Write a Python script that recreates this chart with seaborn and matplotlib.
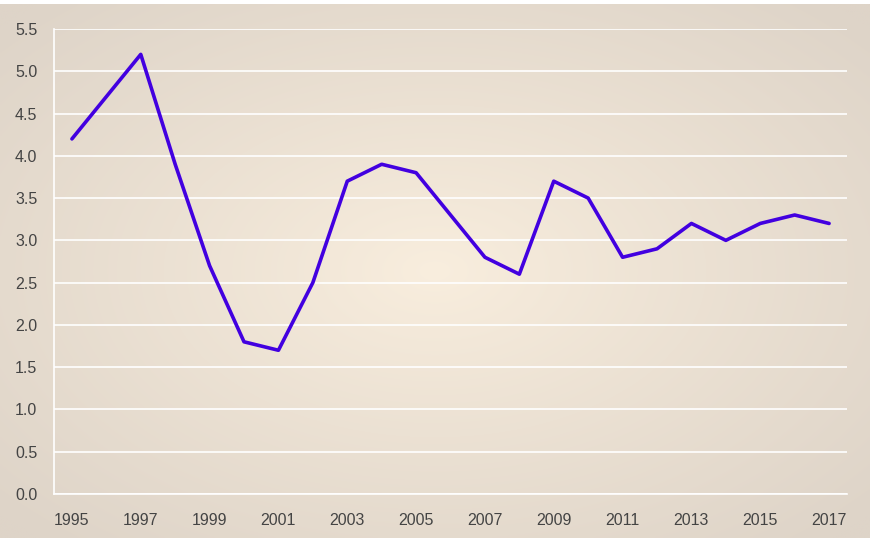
import numpy as np
import pandas as pd
import matplotlib
matplotlib.use("Agg")
import matplotlib.pyplot as plt
import seaborn as sns

# ── data ──────────────────────────────────────────────
years = list(range(1995, 2018))
values = [4.2, 4.7, 5.2, 3.9, 2.7, 1.8, 1.7, 2.5, 3.7, 3.9, 3.8, 3.3,
          2.8, 2.6, 3.7, 3.5, 2.8, 2.9, 3.2, 3.0, 3.2, 3.3, 3.2]
x_ticks = list(range(1995, 2018, 2))
y_ticks = [0.0, 0.5, 1.0, 1.5, 2.0, 2.5, 3.0, 3.5, 4.0, 4.5, 5.0, 5.5]

df = pd.DataFrame({"year": years, "value": values})

sns.set_theme(style="white")
plt.rcParams["font.family"] = ["Liberation Sans", "DejaVu Sans"]

fig = plt.figure(figsize=(8.73, 5.38), dpi=100)
fig.patch.set_facecolor("white")

# radial gradient background (leaves a thin white strip top and right)
bg = fig.add_axes([0, 0, 1 - 3 / 873, 1 - 4 / 538], zorder=-10)
gx, gy = np.meshgrid(np.linspace(-1, 1, 400), np.linspace(-1, 1, 250))
r = np.clip(np.sqrt(gx**2 + gy**2) / 1.35, 0, 1) ** 0.9
center = np.array([249, 238, 222]) / 255
edge = np.array([222, 212, 200]) / 255
img = center[None, None, :] * (1 - r[..., None]) + edge[None, None, :] * r[..., None]
bg.imshow(img, aspect="auto", extent=[0, 1, 0, 1], interpolation="bilinear")
bg.set_axis_off()

ax = fig.add_axes([0.0619, 0.0818, 0.9083, 0.8643])
ax.patch.set_alpha(0)

sns.lineplot(data=df, x="year", y="value", color="#4200e0", linewidth=2.6, ax=ax)

ax.set_xlim(1994.48, 2017.52)
ax.set_ylim(0, 5.5)
ax.set_xticks(x_ticks)
ax.set_yticks(y_ticks)
ax.set_yticklabels([f"{v:.1f}" for v in y_ticks])
ax.set_xlabel("")
ax.set_ylabel("")
ax.grid(axis="y", color="white", linewidth=1.2)
ax.grid(axis="x", visible=False)
for side in ["top", "right"]:
    ax.spines[side].set_visible(False)
for side in ["left", "bottom"]:
    ax.spines[side].set_color("white")
    ax.spines[side].set_linewidth(1.2)
ax.tick_params(axis="both", colors="white", length=6, width=1.2,
               labelcolor="#444444", labelsize=11.5)
ax.tick_params(axis="x", pad=8)
ax.tick_params(axis="y", pad=6)

fig.savefig("out.png", dpi=100)
plt.close("all")
